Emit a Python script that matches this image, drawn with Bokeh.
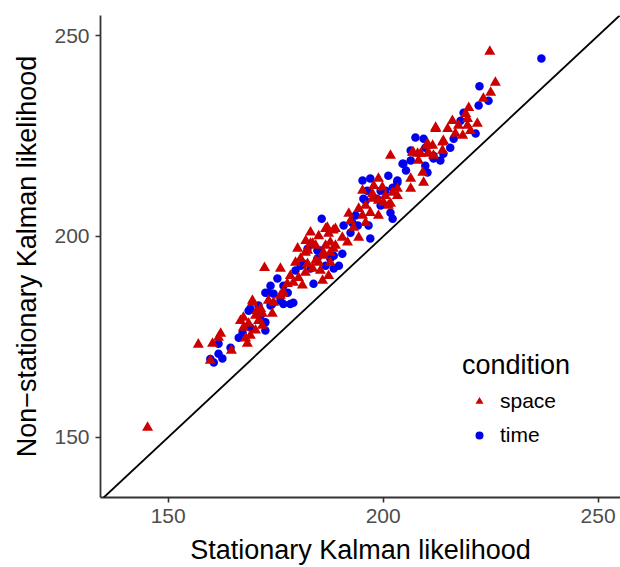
from bokeh.plotting import figure
from bokeh.models import Range1d, Slope, Legend, LegendItem, ColumnDataSource, FixedTicker
from bokeh.embed import file_html
from bokeh.resources import INLINE

# space condition (triangles)
space_x = [145.2, 157.0, 160.3, 161.7, 162.2, 159.8, 164.7, 168.0, 168.4, 167.5, 168.7, 169.6, 167.5, 170.3,
           171.0, 171.9, 174.2, 176.6, 183.1, 183.6, 186.6, 187.3, 188.9, 180.1, 182.4, 184.3, 186.6, 187.7,
           172.4, 176.1, 178.4, 180.3, 182.4, 183.6, 185.4, 187.3, 184.3, 186.1, 187.7, 176.8, 176.1, 174.5,
           169.6, 171.5, 179.1, 181.2, 198.9, 197.8, 195.2, 199.8, 197.5, 200.1, 201.2, 203.3, 194.3, 192.0,
           195.2, 198.9, 187.0, 188.4, 193.1, 190.5, 194.3, 183.1, 187.7, 191.7, 181.9, 186.1, 188.4, 212.2,
           213.8, 201.7, 206.8, 208.0, 210.3, 210.5, 209.2, 206.4, 209.4, 197.5, 198.9, 203.3, 206.4, 201.7,
           226.1, 225.0, 223.3, 219.9, 219.2, 216.1, 219.6, 217.5, 219.6, 221.9, 212.2, 215.0, 218.5, 214.0,
           210.3, 207.0, 208.7, 210.5, 211.7, 213.8, 224.8, 166.8, 169.1, 170.3, 171.9, 180.8, 185.0, 181.9,
           185.9, 195.9, 200.5, 197.0, 208.2, 211.5, 182.0, 185.0, 179.6, 188.9, 177.7, 173.3, 170.6, 192.4,
           195.9, 202.2, 216.8, 220.3]
space_y = [152.4, 173.1, 173.3, 174.8, 175.8, 169.1, 171.6, 174.6, 173.3, 177.3, 178.3, 184.0, 179.8, 176.6,
           179.0, 180.8, 180.8, 185.8, 201.0, 198.2, 201.9, 200.7, 201.9, 197.0, 196.5, 197.7, 197.7, 196.0,
           192.2, 192.0, 190.2, 189.7, 193.2, 192.0, 191.5, 190.2, 194.0, 195.2, 193.5, 186.0, 185.3, 183.5,
           183.5, 182.0, 188.5, 187.8, 214.4, 212.6, 211.4, 212.2, 209.4, 208.4, 207.7, 211.9, 206.9, 205.7,
           205.2, 205.2, 202.2, 201.5, 202.2, 199.7, 199.7, 198.2, 198.5, 198.5, 196.0, 196.0, 197.0, 227.1,
           223.4, 220.1, 220.9, 220.6, 222.6, 220.6, 215.9, 214.4, 213.4, 210.6, 208.9, 210.1, 211.9, 208.2,
           238.3, 235.8, 234.3, 232.0, 230.5, 228.8, 229.3, 227.6, 227.6, 228.1, 226.8, 226.8, 225.1, 223.8,
           223.1, 220.9, 220.6, 220.9, 220.1, 221.4, 246.0, 179.0, 175.3, 180.3, 177.8, 194.5, 193.5, 191.0,
           189.0, 207.7, 210.1, 205.9, 218.9, 222.6, 198.9, 200.1, 193.5, 197.7, 188.2, 184.0, 181.5, 203.9,
           203.4, 210.9, 225.6, 226.3]

# time condition (circles)
time_x = [159.8, 160.6, 161.7, 162.6, 164.5, 161.7, 168.7, 171.0, 174.2, 172.6, 178.4, 167.3, 173.3, 185.7,
          185.4, 184.7, 188.5, 189.7, 175.4, 173.8, 172.6, 174.5, 176.8, 179.6, 183.8, 179.1, 176.8, 173.8,
          169.1, 181.5, 195.2, 197.0, 201.2, 203.3, 200.5, 195.4, 198.6, 201.7, 202.2, 190.8, 192.8, 196.6,
          197.0, 182.4, 184.7, 190.5, 188.5, 207.5, 209.4, 211.7, 209.8, 210.3, 204.5, 205.3, 203.3, 195.9,
          202.2, 222.4, 222.2, 224.5, 218.7, 221.5, 216.4, 215.6, 209.8, 214.0, 211.7, 204.7, 236.8, 169.1,
          166.4, 172.6, 183.1, 180.8, 186.6, 199.4, 196.3, 193.6, 206.4, 213.3, 176.1, 177.8, 171.5, 187.7,
          192.4, 194.1, 199.4, 206.4, 218.0]
time_y = [169.5, 168.6, 170.8, 169.6, 172.3, 173.3, 181.5, 182.8, 183.2, 178.6, 183.2, 176.1, 186.0, 204.4,
          196.5, 194.5, 192.0, 192.7, 189.5, 187.7, 186.0, 185.7, 187.7, 191.5, 188.2, 183.5, 183.2, 182.8,
          182.0, 193.2, 213.9, 214.4, 215.1, 213.9, 211.4, 209.4, 209.4, 205.9, 204.4, 202.7, 203.4, 202.7,
          199.5, 196.9, 196.5, 195.7, 195.2, 224.6, 224.3, 220.1, 217.6, 215.9, 218.1, 216.4, 213.4, 208.9,
          212.1, 237.4, 232.6, 233.8, 230.8, 225.6, 224.3, 222.1, 222.1, 220.6, 219.4, 218.1, 244.3, 177.3,
          174.8, 176.6, 192.0, 192.7, 192.7, 207.7, 211.4, 205.2, 221.4, 218.9, 184.0, 186.0, 180.3, 194.5,
          200.9, 202.7, 211.4, 218.9, 228.8]

x_ticks = [150, 200, 250]
y_ticks = [150, 200, 250]
x_label = "Stationary Kalman likelihood"
y_label = "Non\u2212stationary Kalman likelihood"
legend_title = "condition"
series_names = ["space", "time"]

RED = "#CD0000"
BLUE = "#0000EE"
FONT = "Liberation Sans"

p = figure(width=620, height=567, output_backend="svg", toolbar_location=None,
           x_range=Range1d(134.25, 255.2), y_range=Range1d(135.0, 255.0),
           min_border_left=100, min_border_right=0, min_border_top=15, min_border_bottom=70)
p.outline_line_color = None
p.xgrid.grid_line_color = None
p.ygrid.grid_line_color = None
p.background_fill_color = "white"
p.border_fill_color = "white"

p.add_layout(Slope(gradient=1, y_intercept=0, line_color="black", line_width=1.8))

src_t = ColumnDataSource(dict(x=time_x, y=time_y))
src_s = ColumnDataSource(dict(x=space_x, y=space_y))
r_time = p.scatter("x", "y", source=src_t, marker="circle", size=8.5, fill_color=BLUE, line_color=BLUE, line_width=0)
r_space = p.scatter("x", "y", source=src_s, marker="triangle", size=11, fill_color=RED, line_color=RED, line_width=0)

for ax, ticks, lab in ((p.xaxis[0], x_ticks, x_label), (p.yaxis[0], y_ticks, y_label)):
    ax.ticker = FixedTicker(ticks=ticks)
    ax.minor_tick_line_color = None
    ax.major_tick_in = 0
    ax.major_tick_out = 5
    ax.major_tick_line_color = "#333333"
    ax.major_tick_line_width = 1.6
    ax.axis_line_color = "#333333"
    ax.axis_line_width = 1.8
    ax.major_label_text_font = FONT
    ax.major_label_text_font_size = "21px"
    ax.major_label_text_color = "#4D4D4D"
    ax.major_label_standoff = 6
    ax.axis_label = lab
    ax.axis_label_text_font = FONT
    ax.axis_label_text_font_size = "27px"
    ax.axis_label_text_font_style = "normal"
    ax.axis_label_text_color = "black"
    ax.axis_label_standoff = 9

legend = Legend(items=[LegendItem(label=series_names[0], renderers=[r_space]),
                       LegendItem(label=series_names[1], renderers=[r_time])],
                location=(362, 47), title=legend_title,
                title_text_font=FONT, title_text_font_size="27px", title_text_font_style="normal",
                title_text_color="black", title_standoff=5,
                label_text_font=FONT, label_text_font_size="21px", label_text_color="black",
                glyph_width=34, glyph_height=20, label_height=30, label_standoff=4, spacing=4,
                padding=0, margin=0, border_line_color=None, background_fill_alpha=0)
p.add_layout(legend)

open("out.html", "w").write(file_html(p, INLINE))
